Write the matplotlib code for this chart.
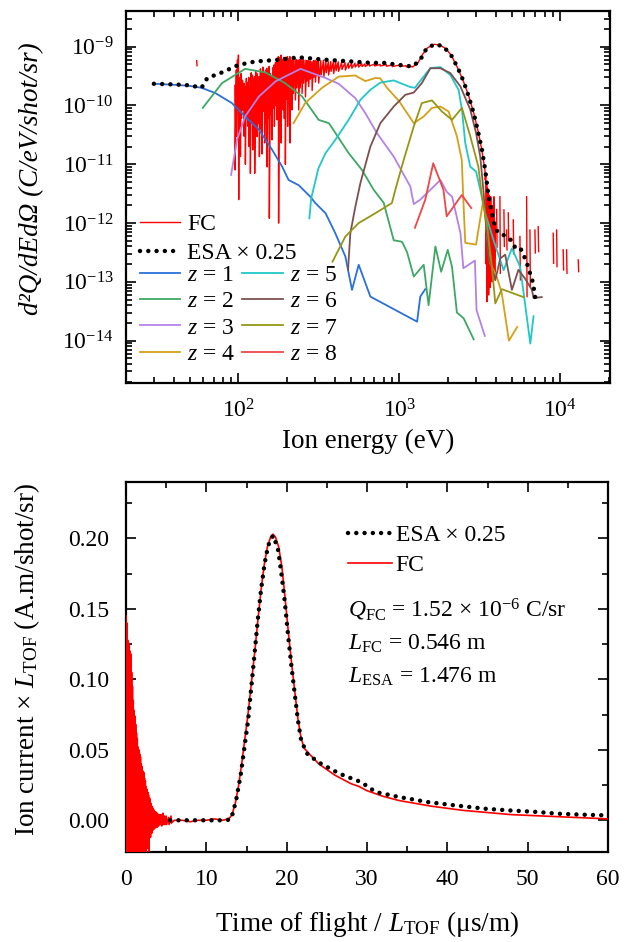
import numpy as np
import matplotlib
matplotlib.use('Agg')
import matplotlib.pyplot as plt
from matplotlib.ticker import MultipleLocator, LogLocator, NullFormatter

plt.rcParams['font.family'] = ['Liberation Serif', 'DejaVu Serif']
plt.rcParams['mathtext.fontset'] = 'custom'
plt.rcParams['mathtext.rm'] = 'Liberation Serif'
plt.rcParams['mathtext.it'] = 'Liberation Serif:italic'
plt.rcParams['axes.unicode_minus'] = False

# ---------------- top panel data (energy in eV, d2Q/dEdOmega) ----------------
esa_e = [29.8, 40, 50, 59, 64, 79, 100, 127, 178, 237, 348, 508, 692, 762, 1000,
         1211, 1350, 1482, 1676, 1888, 2126, 2335, 2510, 2700, 2900, 3100, 3265,
         3420, 3590, 3765, 3950, 4140, 4550, 5010, 5250, 5640, 5910, 6200, 6410,
         6670, 6830, 7000]
esa_v = [2.34e-10, 2.28e-10, 2.2e-10, 2.0e-10, 2.93e-10, 3.65e-10, 4.9e-10, 5.6e-10,
         6.0e-10, 6.6e-10, 6.0e-10, 5.6e-10, 5.27e-10, 5.4e-10, 4.9e-10, 4.6e-10,
         6.0e-10, 9.5e-10, 1.11e-9, 1.0e-9, 6.8e-10, 4.07e-10, 2.57e-10, 1.42e-10,
         7.4e-11, 3.4e-11, 1.76e-11, 8.0e-12, 2.8e-12, 1.47e-12, 8.2e-13, 6.7e-13,
         6.1e-13, 5.0e-13, 3.8e-13, 3.8e-13, 2.9e-13, 2.1e-13, 1.55e-13, 1.15e-13,
         8.3e-14, 5.3e-14]

# FC: isolated piece, noisy band (top/bottom of each spike), smooth part, tail
fc_iso_e = [55.0, 55.3]
fc_iso_v = [5.8e-10, 4.75e-10]
fc_band_e = [95, 97, 98.6, 100, 101, 102.5, 104, 105.9, 108, 110, 112, 114.4, 116,
             118.2, 120, 122.2, 124, 125.7, 128, 130.1, 132, 134.4, 137, 139.8, 142,
             145, 147.5, 150, 152.5, 155, 158, 161, 164, 166.6, 170, 173, 175, 177,
             180, 183.5, 186, 189, 192, 195, 198, 201.5, 205, 208.6, 211, 214.6, 219,
             225, 230, 236, 241, 247.6, 253, 260, 266, 272, 279, 286, 293, 300, 307,
             314, 325, 338, 350, 362, 375, 389, 403, 417, 438, 460, 482, 505, 530,
             556, 584, 612, 650, 700, 760, 830, 900, 1000, 1100, 1200]
fc_band_hi = [2.2e-10, 4.0e-10, 5.9e-10, 7.2e-10, 3.0e-10, 2.1e-10, 3.5e-10, 2.7e-10,
              2.4e-10, 2.1e-10, 2.9e-10, 2.5e-10, 3.0e-10, 2.0e-10, 3.6e-10, 3.3e-10,
              2.8e-10, 3.1e-10, 3.8e-10, 3.5e-10, 2.9e-10, 3.1e-10, 4.2e-10, 3.8e-10,
              4.5e-10, 3.5e-10, 4.0e-10, 4.3e-10, 3.8e-10, 4.6e-10, 3.5e-10, 3.1e-10,
              4.4e-10, 4.9e-10, 5.4e-10, 5.9e-10, 6.2e-10, 6.8e-10, 6.5e-10, 7.2e-10,
              6.2e-10, 5.9e-10, 6.6e-10, 6.4e-10, 6.0e-10, 6.8e-10, 6.2e-10, 6.8e-10,
              6.0e-10, 5.9e-10, 6.4e-10, 6.35e-10, 6.0e-10, 5.9e-10, 6.1e-10, 5.9e-10,
              6.0e-10, 5.9e-10, 5.8e-10, 5.9e-10, 5.7e-10, 5.55e-10, 5.8e-10, 5.9e-10,
              5.7e-10, 5.9e-10, 5.8e-10, 5.9e-10, 5.6e-10, 5.55e-10, 5.6e-10, 5.55e-10,
              5.5e-10, 5.55e-10, 5.4e-10, 5.35e-10, 5.3e-10, 5.2e-10, 5.25e-10, 5.2e-10,
              5.15e-10, 5.1e-10, 5.1e-10, 5.05e-10, 5.0e-10, 4.95e-10, 4.9e-10, 4.85e-10,
              4.75e-10, 4.6e-10]
fc_band_lo = [8e-12, 3e-11, 8.4e-11, 2.5e-12, 5e-11, 1.35e-11, 6e-11, 8.4e-11, 3e-11,
              1.0e-11, 6e-11, 4.4e-11, 2e-11, 7e-12, 5e-11, 1.75e-11, 4e-11, 7e-12,
              6e-11, 2.95e-11, 5e-11, 1.35e-11, 4e-11, 1.5e-11, 8e-11, 2.3e-11, 5e-11,
              9e-12, 6e-11, 1.2e-12, 7e-11, 2.6e-11, 9e-11, 4.4e-11, 1e-10, 5.7e-11,
              1.2e-10, 1.0e-12, 9e-11, 2.3e-11, 1.2e-10, 8.4e-11, 6e-11, 1.0e-11,
              1.3e-10, 4.4e-11, 1.1e-10, 2.3e-11, 1.5e-10, 8.4e-11, 1.6e-10, 1.24e-10,
              2.0e-10, 8.4e-11, 2.0e-10, 1.6e-10, 2.4e-10, 1.4e-10, 2.6e-10, 2.1e-10,
              2.8e-10, 1.8e-10, 3.0e-10, 2.5e-10, 3.2e-10, 2.4e-10, 3.3e-10, 3.1e-10,
              3.6e-10, 3.3e-10, 3.8e-10, 3.5e-10, 3.9e-10, 3.8e-10, 4.1e-10, 4.0e-10,
              4.3e-10, 4.3e-10, 4.5e-10, 4.5e-10, 4.6e-10, 4.6e-10, 4.7e-10, 4.7e-10,
              4.7e-10, 4.65e-10, 4.6e-10, 4.6e-10, 4.55e-10, 4.5e-10]
fc_smooth_e = [1300, 1400, 1500, 1650, 1800, 1950, 2100, 2300, 2500, 2700, 2900,
               3100, 3250]
fc_smooth_v = [5.2e-10, 7.5e-10, 9.6e-10, 1.1e-9, 1.06e-9, 9.2e-10, 7.2e-10, 4.4e-10,
               2.6e-10, 1.45e-10, 7.5e-11, 3.5e-11, 1.8e-11]
fc_tail_e = [3406, 3450, 3490, 3530, 3573, 3615, 3660, 3700, 3750, 3790, 3837, 3880, 3930]
fc_tail_hi = [8.0e-12, 7e-12, 5e-12, 4e-12, 3.7e-12, 3e-12, 2.5e-12, 2.8e-12, 1.7e-12,
              2e-12, 1.5e-12, 2.8e-12, 1.0e-12]
fc_tail_lo = [5.4e-12, 2e-13, 4.6e-14, 1.5e-13, 6e-14, 3e-13, 8e-14, 2.0e-13, 1.0e-13,
              3e-13, 1.2e-13, 2.5e-13, 1.08e-13]
fc_spike_e = [4027, 4220, 4470, 4645, 4755, 5110, 5620, 6185, 6485, 6965, 7300, 9050,
              9500, 10440, 10960, 12950]
fc_spike_hi = [1.7e-12, 2.8e-12, 1.67e-12, 7.6e-13, 1.49e-12, 1.13e-12, 5.9e-13,
               2.8e-12, 7.6e-13, 7.6e-13, 8.7e-13, 6.7e-13, 7.6e-13, 3.5e-13, 3.5e-13,
               2.36e-13]
fc_spike_lo = [3.9e-13, 1.4e-13, 4e-13, 3.5e-13, 5e-13, 3.0e-13, 1.08e-13, 5.6e-14,
               8.3e-14, 3.1e-13, 3.27e-13, 2.07e-13, 1.82e-13, 1.59e-13, 1.4e-13,
               1.49e-13]

z_e = {
    1: [30, 40, 50, 59, 72, 91, 110, 134, 162, 187, 205, 237, 280, 300, 348, 400, 462,
        508, 559, 661, 1290, 1350, 1450],
    2: [60, 79, 110, 147, 195, 249, 315, 365, 420, 484, 586, 692, 800, 923, 1040, 1117,
        1230, 1418, 1520, 1676, 1820, 2000, 2126, 2280, 2510, 2900],
    3: [90, 98, 110, 134, 170, 243, 348, 420, 533, 615, 725, 923, 1170, 1230, 1350,
        1800, 1970, 2130, 2400, 2500, 2950, 3020, 3400],
    4: [220, 260, 331, 420, 533, 615, 710, 762, 838, 1000, 1230, 1418, 1596, 1800, 2024,
        2280, 2445, 2500, 2570, 3000, 3100, 3330, 3660, 4030, 4330, 4800, 5400],
    5: [276, 283, 300, 314, 348, 400, 484, 573, 661, 762, 923, 1170, 1250, 1560, 1800,
        2075, 2335, 2450, 2570, 2760, 3000, 3185, 3420, 3850, 4450, 5010, 5640, 6520,
        6830],
    6: [480, 496, 533, 573, 661, 762, 923, 1090, 1230, 1380, 1560, 1800, 2075, 2400,
        2760, 3000, 3185, 3330, 3590, 3950, 4240, 4550, 5010, 5500, 6030, 6670, 6830,
        7680],
    7: [384, 462, 559, 710, 900, 945, 1065, 1230, 1380, 1596, 1840, 2126, 2450, 2760,
        3100, 3265, 3500, 3765, 3950, 4340, 5910],
    8: [1250, 1450, 1625, 1880, 1970, 2445, 2800],
}
z_v = {
    1: [2.34e-10, 2.25e-10, 2.15e-10, 2.0e-10, 1.62e-10, 1.1e-10, 6.5e-11, 3.9e-11,
        1.76e-11, 9.1e-12, 5.4e-12, 4.4e-12, 2.8e-12, 2.2e-12, 1.47e-12, 6.7e-13,
        2.7e-13, 7.3e-14, 1.95e-13, 5.6e-14, 2.1e-14, 5.6e-14, 7.5e-14],
    2: [9.1e-11, 2.4e-10, 4.2e-10, 3.65e-10, 2.4e-10, 1.42e-10, 5.7e-11, 5.0e-11,
        2.8e-11, 1.55e-11, 8.0e-12, 3.7e-12, 2.2e-12, 5.1e-13, 4.8e-13, 3.2e-13,
        1.23e-13, 1.95e-13, 4.0e-14, 4.0e-13, 1.48e-13, 3.5e-13, 1.8e-13, 3.0e-14,
        2.4e-14, 1.05e-14],
    3: [6.6e-12, 2.6e-11, 6.5e-11, 1.42e-10, 2.57e-10, 4.2e-10, 2.93e-10, 2.34e-10,
        1.33e-10, 7.4e-11, 3.4e-11, 1.35e-11, 4.2e-12, 2.1e-12, 2.5e-12, 5.4e-12,
        3.4e-12, 2.8e-12, 6.7e-13, 1.7e-13, 2.3e-13, 3.3e-14, 1.2e-14],
    4: [5.0e-11, 1.1e-10, 2.0e-10, 3.1e-10, 3.24e-10, 2.6e-10, 2.93e-10, 2.9e-10,
        2.0e-10, 1.17e-10, 5.0e-11, 6.5e-11, 9.1e-11, 9.6e-11, 7.9e-11, 3.0e-11,
        1.19e-11, 2.5e-12, 4.6e-13, 4.3e-13, 7.6e-13, 2.5e-12, 2.1e-13, 1.23e-13,
        6.5e-14, 1.0e-14, 1.7e-14],
    5: [1.2e-12, 2.6e-12, 5e-12, 8.5e-12, 1.55e-11, 2.6e-11, 5.7e-11, 1.25e-10,
        1.85e-10, 2.45e-10, 2.67e-10, 2.06e-10, 2.0e-10, 4.34e-10, 4.5e-10, 3.3e-10,
        1.85e-10, 8.5e-11, 2.3e-11, 9.1e-12, 7.5e-12, 3.7e-12, 1.47e-12, 5.1e-13,
        1.58e-13, 3.7e-13, 1.8e-13, 8.9e-15, 2.6e-14],
    6: [1.6e-13, 6.7e-13, 1.9e-12, 4.8e-12, 2.0e-11, 5.0e-11, 9.6e-11, 1.52e-10,
        1.66e-10, 2.4e-10, 4.3e-10, 4.3e-10, 3.56e-10, 2.1e-10, 8.5e-11, 3.4e-11,
        1.35e-11, 3.7e-12, 2.7e-13, 1.07e-13, 2.5e-13, 2.9e-13, 7.3e-14, 1.6e-13,
        1.15e-13, 7.3e-14, 5.3e-14, 5.5e-14],
    7: [2.2e-13, 5.9e-13, 1.0e-12, 1.47e-12, 2.2e-12, 3.7e-12, 1.19e-11, 4.4e-11,
        1.1e-10, 1.22e-10, 7.9e-11, 5.7e-11, 9.1e-11, 3.0e-11, 9.1e-12, 2.8e-12,
        1.0e-12, 1.8e-13, 4.3e-14, 7.5e-14, 5.5e-14],
    8: [8.3e-13, 2.5e-12, 1.04e-11, 3.7e-12, 1.3e-12, 3.0e-12, 1.8e-12],
}
z_colors = {1: '#2a6fdb', 2: '#3ca864', 3: '#b482e6', 4: '#d4a017',
            5: '#1ec8c8', 6: '#7d5050', 7: '#969614', 8: '#f04646'}

# ---------------- bottom panel data (time of flight / L, us/m) ----------------
esa_t = [5.5, 8, 10, 12.5, 13.1, 13.7, 14.3, 14.75, 15.2, 15.6, 16.0, 16.4, 16.8,
         17.25, 17.7, 18.3, 18.9, 19.3, 19.75, 20.2, 20.6, 21.0, 21.4, 21.8, 22.5,
         24.0, 26.6, 29.3, 31.1, 34.1, 37.6, 40.9, 44.7, 47.7, 51.2, 53.7, 56.7, 59.8]
esa_i = [0.0, 0.0, 0.0, 0.0, 0.001, 0.014, 0.033, 0.052, 0.071, 0.0945, 0.118, 0.142,
         0.163, 0.182, 0.195, 0.202, 0.193, 0.177, 0.156, 0.130, 0.109, 0.090, 0.071,
         0.057, 0.0475, 0.041, 0.033, 0.027, 0.020, 0.0164, 0.0129, 0.0106, 0.0082,
         0.0070, 0.0059, 0.0047, 0.0040, 0.0035]

fcb_noise_t = [0.0, 0.1, 0.2, 0.3, 0.4, 0.5, 0.6, 0.7, 0.8, 0.9, 1.0, 1.1, 1.2, 1.3,
               1.4, 1.5, 1.6, 1.7, 1.8, 1.9, 2.0, 2.1, 2.2, 2.3, 2.4, 2.5, 2.6, 2.7,
               2.8, 2.9, 3.0, 3.1, 3.2, 3.3, 3.4, 3.5, 3.6, 3.7, 3.8, 3.9, 4.0, 4.2,
               4.4, 4.6, 4.8, 5.0, 5.3, 5.6]
fcb_noise_hi = [0.145, 0.140, 0.128, 0.126, 0.124, 0.120, 0.118, 0.105, 0.095, 0.085,
                0.078, 0.074, 0.068, 0.062, 0.058, 0.052, 0.050, 0.047, 0.045, 0.040,
                0.038, 0.035, 0.034, 0.030, 0.028, 0.024, 0.022, 0.020, 0.018, 0.016,
                0.015, 0.012, 0.010, 0.009, 0.008, 0.007, 0.006, 0.006, 0.005, 0.005,
                0.004, 0.004, 0.004, 0.005, 0.003, 0.003, 0.002, 0.003]
fcb_noise_lo = [-0.03, -0.03, -0.03, -0.03, -0.03, -0.03, -0.03, -0.03, -0.03, -0.03,
                -0.03, -0.028, -0.03, -0.026, -0.03, -0.024, -0.03, -0.022, -0.028,
                -0.02, -0.026, -0.018, -0.024, -0.016, -0.03, -0.014, -0.02, -0.012,
                -0.022, -0.010, -0.012, -0.008, -0.009, -0.007, -0.006, -0.006, -0.005,
                -0.004, -0.005, -0.004, -0.004, -0.003, -0.004, -0.003, -0.003, -0.003,
                -0.003, -0.002]
fcb_t = [6, 7, 8, 9, 10, 11, 12, 12.8, 13.2, 13.6, 14.0, 14.4, 14.8, 15.2, 15.6, 16.0,
         16.4, 16.8, 17.2, 17.6, 18.0, 18.3, 18.6, 19.0, 19.4, 19.8, 20.2, 20.6, 21.0,
         21.4, 21.8, 22.2, 23, 24, 25, 26, 27, 28, 29, 30, 32, 34, 36, 38, 40, 42, 44,
         46, 48, 50, 52, 54, 56, 58, 60]
fcb_i = [0.000, 0.000, -0.001, 0.000, 0.000, 0.001, 0.000, 0.001, 0.004, 0.012, 0.024,
         0.040, 0.058, 0.076, 0.097, 0.118, 0.141, 0.163, 0.181, 0.194, 0.201, 0.203,
         0.201, 0.194, 0.180, 0.158, 0.134, 0.112, 0.092, 0.072, 0.058, 0.051, 0.046,
         0.040, 0.036, 0.032, 0.029, 0.026, 0.024, 0.021, 0.017, 0.014, 0.012, 0.010,
         0.0085, 0.007, 0.006, 0.005, 0.004, 0.0035, 0.003, 0.0025, 0.002, 0.0015,
         0.001]


def zigzag(x, hi, lo, dx):
    xs = np.column_stack([np.asarray(x, float), np.asarray(x, float) * dx]).ravel()
    ys = np.column_stack([hi, lo]).ravel()
    return xs, ys


def zigzag_lin(x, hi, lo, dx):
    xs = np.column_stack([np.asarray(x, float), np.asarray(x, float) + dx]).ravel()
    ys = np.column_stack([hi, lo]).ravel()
    return xs, ys


FS_TICK = 17
FS_LAB = 19.5
FS_LEG = 17
DOTS = dict(color='black', lw=3.2, linestyle=(0, (0.01, 1.85)), dash_capstyle='round')

fig = plt.figure(figsize=(6.34, 9.42), dpi=100)
ax1 = fig.add_axes([126 / 634, 1 - 383 / 942, 484 / 634, 372 / 942])
ax2 = fig.add_axes([126 / 634, 1 - 852 / 942, 482 / 634, 370 / 942])

# ---- top panel ----
bx, by = zigzag(fc_band_e, fc_band_hi, fc_band_lo, 1.004)
tx, ty = zigzag(fc_tail_e, fc_tail_hi, fc_tail_lo, 1.005)
sx, sy = zigzag(fc_spike_e, fc_spike_hi, fc_spike_lo, 1.006)
sx = np.insert(sx, np.arange(2, len(sx), 2), np.nan)
sy = np.insert(sy, np.arange(2, len(sy), 2), np.nan)
fc_x = np.concatenate([fc_iso_e, [np.nan], bx, fc_smooth_e, tx, [np.nan], sx])
fc_y = np.concatenate([fc_iso_v, [np.nan], by, fc_smooth_v, ty, [np.nan], sy])
h_fc, = ax1.plot(fc_x, fc_y, color='red', lw=1.0, label='FC', zorder=2)
zh = []
for z in range(1, 9):
    h, = ax1.plot(z_e[z], z_v[z], color=z_colors[z], lw=1.3, label=f'$z$ = {z}',
                  zorder=3)
    zh.append(h)
h_esa, = ax1.plot(esa_e, esa_v, label='ESA × 0.25', zorder=4, **DOTS)

ax1.set_xscale('log')
ax1.set_yscale('log')
ax1.set_xlim(20, 2.04e4)
ax1.set_ylim(1.9e-15, 4.05e-9)
ax1.xaxis.set_minor_locator(LogLocator(base=10, subs=np.arange(2, 10), numticks=20))
ax1.yaxis.set_minor_locator(LogLocator(base=10, subs=np.arange(2, 10), numticks=20))
ax1.xaxis.set_minor_formatter(NullFormatter())
ax1.yaxis.set_minor_formatter(NullFormatter())
ax1.set_yticks([1e-14, 1e-13, 1e-12, 1e-11, 1e-10, 1e-9])
ax1.set_xlabel('Ion energy (eV)', fontsize=FS_LAB, labelpad=4)
ax1.set_ylabel('d²Q/dEdΩ (C/eV/shot/sr)', fontsize=FS_LAB, fontstyle='italic')
ax1.yaxis.set_label_coords(-0.17, 0.55)

leg1 = ax1.legend([h_fc, h_esa], ['FC', 'ESA × 0.25'], loc='upper left',
                  bbox_to_anchor=(0.029, 0.455), frameon=False, fontsize=FS_LEG,
                  borderpad=0, borderaxespad=0, handlelength=1.7, handletextpad=0.3,
                  labelspacing=0.3)
ax1.add_artist(leg1)
ax1.legend(zh, [h.get_label() for h in zh], ncol=2, loc='upper left',
           bbox_to_anchor=(0.029, 0.318), frameon=False, fontsize=FS_LEG,
           borderpad=0, borderaxespad=0, handlelength=1.7, handletextpad=0.3,
           labelspacing=0.2, columnspacing=0.3)

# ---- bottom panel ----
nx, ny = zigzag_lin(fcb_noise_t, fcb_noise_hi, fcb_noise_lo, 0.05)
fcb_x = np.concatenate([nx, fcb_t])
fcb_y = np.concatenate([ny, fcb_i])
h_esa2, = ax2.plot(esa_t, esa_i, label='ESA × 0.25', zorder=4, **DOTS)
h_fc2, = ax2.plot(fcb_x, fcb_y, color='red', lw=1.2, label='FC', zorder=3)
ax2.set_xlim(0, 60)
ax2.set_ylim(-0.0225, 0.24)
ax2.xaxis.set_major_locator(MultipleLocator(10))
ax2.xaxis.set_minor_locator(MultipleLocator(5))
ax2.yaxis.set_major_locator(MultipleLocator(0.05))
ax2.yaxis.set_minor_locator(MultipleLocator(0.025))
ax2.yaxis.set_major_formatter(matplotlib.ticker.FormatStrFormatter('%.2f'))
ax2.set_xlabel(r'Time of flight / $L_{\mathrm{TOF}}$ (μs/m)', fontsize=FS_LAB,
               labelpad=14)
ax2.set_ylabel(r'Ion current × $L_{\mathrm{TOF}}$ (A.m/shot/sr)', fontsize=FS_LAB)
ax2.yaxis.set_label_coords(-0.175, 0.52)
ax2.legend([h_esa2, h_fc2], ['ESA × 0.25', 'FC'], loc='upper left',
           bbox_to_anchor=(0.4615, 0.885), frameon=False, fontsize=FS_LEG,
           borderpad=0, borderaxespad=0, handlelength=1.85, handletextpad=0.15,
           labelspacing=0.35)
ax2.text(0.4615, 0.635, r'$Q_{\mathrm{FC}}$ = 1.52 × 10$^{\mathrm{-6}}$ C/sr',
         transform=ax2.transAxes, fontsize=FS_LEG, va='baseline')
ax2.text(0.4615, 0.546, r'$L_{\mathrm{FC}}$ = 0.546 m',
         transform=ax2.transAxes, fontsize=FS_LEG, va='baseline')
ax2.text(0.4615, 0.457, r'$L_{\mathrm{ESA}}$ = 1.476 m',
         transform=ax2.transAxes, fontsize=FS_LEG, va='baseline')

for ax in (ax1, ax2):
    for sp in ax.spines.values():
        sp.set_linewidth(1.6)
    ax.tick_params(which='both', direction='in', top=True, right=True,
                   labelsize=FS_TICK, width=1.2)
    ax.tick_params(which='major', length=7.5)
    ax.tick_params(which='minor', length=4)
ax1.tick_params(axis='x', which='major', pad=12)
ax1.tick_params(axis='y', which='major', pad=9)
ax2.tick_params(axis='x', which='major', pad=12)
ax2.tick_params(axis='y', which='major', pad=12)

fig.savefig('out.png', dpi=100)
